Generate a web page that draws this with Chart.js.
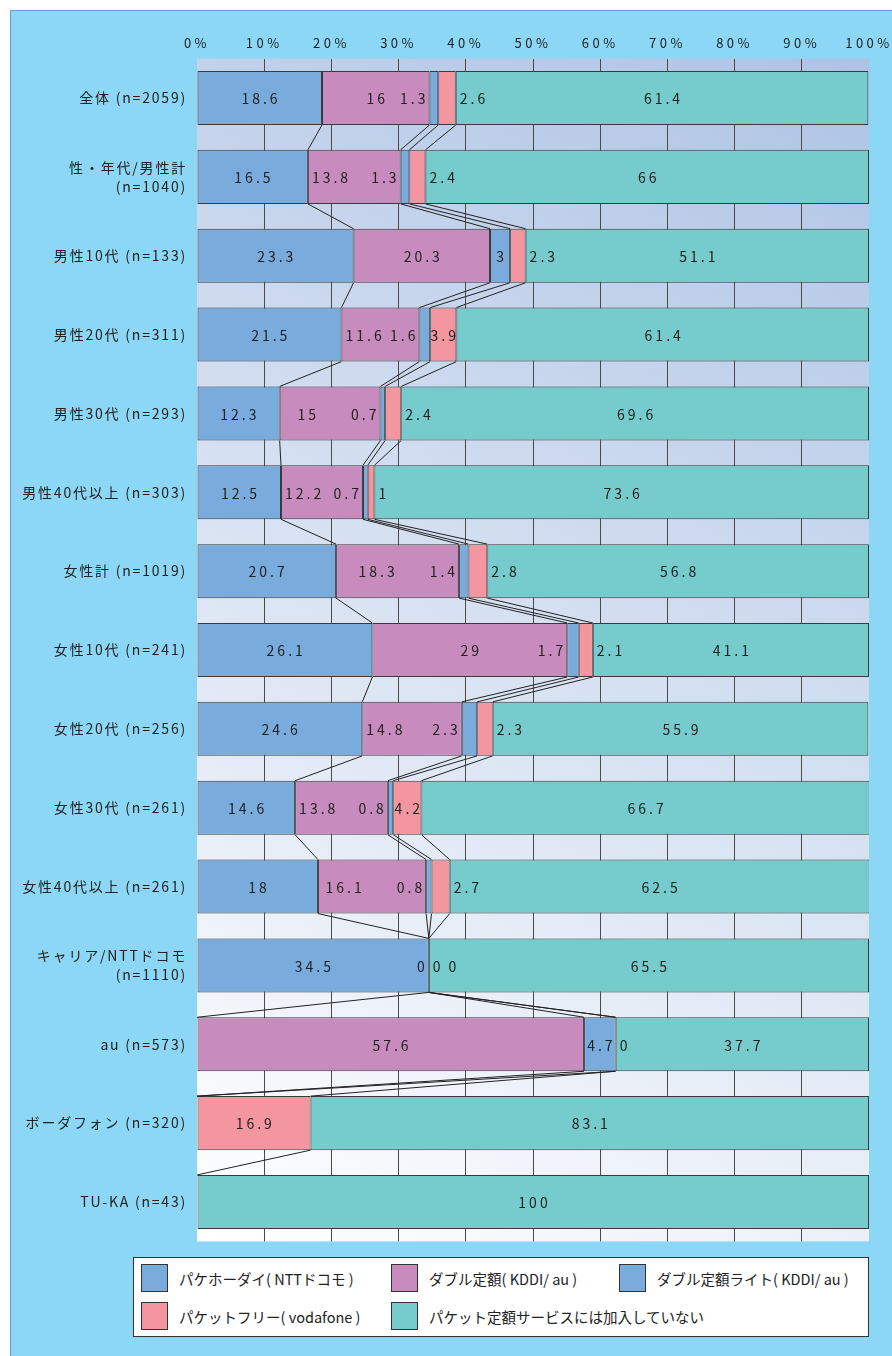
<!DOCTYPE html>
<html lang="ja">
<head>
<meta charset="utf-8">
<script src="https://cdn.jsdelivr.net/npm/chart.js@4.4.1/dist/chart.umd.min.js"></script>
<style>
  html,body{margin:0;padding:0;background:#fff;}
  body{width:892px;height:1356px;position:relative;overflow:hidden;font-family:"Noto Sans CJK JP","Noto Sans",sans-serif;}
  #panel{position:absolute;left:10px;top:10px;right:0;bottom:0;background:#8cd7f5;border-left:1.5px solid #6a9cdc;border-top:1.5px solid #6a9cdc;}
  #c{position:absolute;left:0;top:0;}
  #legend{position:absolute;left:133px;top:1257px;width:734px;height:78px;background:#fff;border:1px solid #333;}
  .li{position:absolute;height:28px;display:flex;align-items:center;white-space:nowrap;font-size:14.5px;color:#222;}
  .sw{width:25px;height:26px;border:1px solid #333;margin-right:11px;flex:none;}
</style>
</head>
<body>
<div id="panel"></div>
<canvas id="c" width="892" height="1356"></canvas>
<div id="legend"></div>
<script>
const categories = [
  '全体 (n=2059)',
  ['性・年代/男性計', '(n=1040)'],
  '男性10代 (n=133)',
  '男性20代 (n=311)',
  '男性30代 (n=293)',
  '男性40代以上 (n=303)',
  '女性計 (n=1019)',
  '女性10代 (n=241)',
  '女性20代 (n=256)',
  '女性30代 (n=261)',
  '女性40代以上 (n=261)',
  ['キャリア/NTTドコモ', '(n=1110)'],
  'au (n=573)',
  'ボーダフォン (n=320)',
  'TU-KA (n=43)'
];
const seriesNames = [
  'パケホーダイ( NTTドコモ )',
  'ダブル定額( KDDI/ au )',
  'ダブル定額ライト( KDDI/ au )',
  'パケットフリー( vodafone )',
  'パケット定額サービスには加入していない'
];
const pakehodai     = [18.6, 16.5, 23.3, 21.5, 12.3, 12.5, 20.7, 26.1, 24.6, 14.6, 18.0, 34.5, null, null, null];
const doubleTeigaku = [16.0, 13.8, 20.3, 11.6, 15.0, 12.2, 18.3, 29.0, 14.8, 13.8, 16.1, 0, 57.6, null, null];
const doubleLite    = [1.3, 1.3, 3.0, 1.6, 0.7, 0.7, 1.4, 1.7, 2.3, 0.8, 0.8, 0, 4.7, null, null];
const packetFree    = [2.6, 2.4, 2.3, 3.9, 2.4, 1.0, 2.8, 2.1, 2.3, 4.2, 2.7, 0, 0, 16.9, null];
const notJoined     = [61.4, 66.0, 51.1, 61.4, 69.6, 73.6, 56.8, 41.1, 55.9, 66.7, 62.5, 65.5, 37.7, 83.1, 100];
const xTicks = [0, 10, 20, 30, 40, 50, 60, 70, 80, 90, 100];

const colors = ['#79acdd', '#c88bbe', '#79acdd', '#f4969f', '#76cbcc'];
const seriesData = [pakehodai, doubleTeigaku, doubleLite, packetFree, notJoined];

const FONT = '"Noto Sans CJK JP", "Noto Sans", sans-serif';
const TXT = '#222';

function fmt(v){ return String(Math.round(v*10)/10); }

function wrapLabels(scale, spacing){
  if (scale._wrapped) return;
  const orig = scale.drawLabels;
  scale.drawLabels = function(ca){
    const ctx = this.ctx;
    const prev = ctx.letterSpacing;
    ctx.letterSpacing = spacing;
    orig.call(this, ca);
    ctx.letterSpacing = prev;
  };
  scale._wrapped = true;
}

const bgPlugin = {
  id: 'bgGrad',
  beforeDraw(chart){
    const {ctx, chartArea:a} = chart;
    wrapLabels(chart.scales.x, '3.5px');
    wrapLabels(chart.scales.y, '1.8px');
    ctx.save();
    const g = ctx.createLinearGradient(a.right, a.top, a.left, a.bottom);
    g.addColorStop(0, '#aec3e4');
    g.addColorStop(1, '#ffffff');
    ctx.fillStyle = g;
    ctx.fillRect(a.left, a.top, a.right - a.left, a.bottom - a.top);
    ctx.restore();
  }
};

const segPlugin = {
  id: 'segLabels',
  afterDatasetsDraw(chart){
    const ctx = chart.ctx, xs = chart.scales.x, ys = chart.scales.y;
    const n = categories.length;
    const tealMeta = chart.getDatasetMeta(4);
    const cum = [];
    for (let i = 0; i < n; i++){
      let s = 0; const row = [];
      for (let k = 0; k < seriesData.length; k++){ s += (seriesData[k][i] || 0); row.push(s); }
      cum.push(row);
    }
    const barH = tealMeta.data[0].height;
    // series lines
    ctx.save();
    ctx.strokeStyle = '#222';
    ctx.lineWidth = 1;
    for (let i = 0; i < n - 1; i++){
      const y1 = ys.getPixelForValue(i) + barH/2;
      const y2 = ys.getPixelForValue(i+1) - barH/2;
      for (let k = 0; k < 4; k++){
        if (cum[i][k] === 0 && cum[i+1][k] === 0) continue;
        ctx.beginPath();
        ctx.moveTo(xs.getPixelForValue(cum[i][k]), y1);
        ctx.lineTo(xs.getPixelForValue(cum[i+1][k]), y2);
        ctx.stroke();
      }
    }
    ctx.restore();
    // labels
    ctx.save();
    ctx.letterSpacing = '3px';
    ctx.font = '14px ' + FONT;
    ctx.fillStyle = TXT;
    ctx.textBaseline = 'middle';
    ctx.textAlign = 'left';
    for (let i = 0; i < n; i++){
      const yc = ys.getPixelForValue(i);
      const seg = k => {
        const s = xs.getPixelForValue(k === 0 ? 0 : cum[i][k-1]);
        const e = xs.getPixelForValue(cum[i][k]);
        return {s, e, w: e - s};
      };
      const out = [];
      const txt = k => seriesData[k][i] === null ? null : fmt(seriesData[k][i]);
      const tw = t => ctx.measureText(t).width - 3;
      const fits = (g, w) => g.w >= Math.max(w - 1.5, 12);
      // series 0
      let t = txt(0);
      if (t !== null){ const g = seg(0), w = tw(t); out.push({t, x: (g.s+g.e)/2 - w/2}); }
      // series 2 (lite)
      let liteLeft = null;
      t = txt(2);
      if (t !== null){
        const g = seg(2), w = tw(t);
        let x = fits(g, w) ? (g.s+g.e)/2 - w/2 : g.s - 4 - w;
        liteLeft = x; out.push({t, x});
      }
      // series 1 (pink)
      let occRight = null;
      t = txt(1);
      if (t !== null){
        const g = seg(1), w = tw(t);
        if (fits(g, w)){
          let x = (g.s+g.e)/2 - w/2;
          if (liteLeft !== null && x + w + 14 > liteLeft){
            x = Math.max(g.s + 4, liteLeft - 35 - w);
          }
          out.push({t, x});
        } else {
          const x = g.e + 4; occRight = x + w; out.push({t, x});
        }
      }
      // series 3 (vodafone)
      t = txt(3);
      if (t !== null){
        const g = seg(3), w = tw(t);
        let x;
        if (fits(g, w)) x = (g.s+g.e)/2 - w/2;
        else { x = g.e + 4; if (occRight !== null) x = Math.max(x, occRight + 8); }
        out.push({t, x});
      }
      // series 4 (teal)
      t = txt(4);
      if (t !== null){ const g = seg(4), w = tw(t); out.push({t, x: (g.s+g.e)/2 - w/2}); }
      out.forEach(o => ctx.fillText(o.t, o.x, yc + 1));
    }
    ctx.restore();
  }
};

const chart = new Chart(document.getElementById('c'), {
  type: 'bar',
  data: {
    labels: categories,
    datasets: seriesData.map((d, k) => ({
      label: seriesNames[k],
      data: d,
      backgroundColor: colors[k],
      borderColor: '#3a3a3a',
      borderWidth: 1,
      borderSkipped: false,
      barPercentage: 0.685,
      categoryPercentage: 1
    }))
  },
  options: {
    indexAxis: 'y',
    responsive: false,
    animation: false,
    devicePixelRatio: 1,
    layout: { padding: { left: 0, top: 0, right: 23, bottom: 114.6 } },
    plugins: { legend: { display: false }, tooltip: { enabled: false } },
    scales: {
      x: {
        position: 'top',
        stacked: true,
        min: 0, max: 100,
        afterBuildTicks(s){ s.ticks = xTicks.map(v => ({value: v})); },
        afterFit(s){ s.height = 58.6; s.paddingLeft = 0; s.paddingRight = 0; },
        border: { display: false },
        grid: {
          drawTicks: false,
          color: c => (c.tick && (c.tick.value === 0 || c.tick.value === 100)) ? 'rgba(0,0,0,0)' : '#4a4a4a',
          lineWidth: 1
        },
        ticks: {
          padding: 8,
          color: TXT,
          font: { family: FONT, size: 13 },
          callback: v => v + '%'
        }
      },
      y: {
        stacked: true,
        afterFit(s){ s.width = 197; s.paddingTop = 0; s.paddingBottom = 0; },
        border: { display: false },
        grid: { display: false, drawTicks: false },
        ticks: {
          autoSkip: false,
          padding: 10,
          color: TXT,
          font: { family: FONT, size: 14, lineHeight: 1.35 }
        }
      }
    }
  },
  plugins: [bgPlugin, segPlugin]
});

// legend built from chart datasets
const legendEl = document.getElementById('legend');
const colX = [7, 257, 485];
const rowY = [6, 44];
chart.data.datasets.forEach((ds, k) => {
  const r = Math.floor(k / 3), c = k % 3;
  const item = document.createElement('div');
  item.className = 'li';
  item.style.left = colX[c] + 'px';
  item.style.top = rowY[r] + 'px';
  const sw = document.createElement('span');
  sw.className = 'sw';
  sw.style.background = ds.backgroundColor;
  const tx = document.createElement('span');
  tx.textContent = ds.label;
  item.appendChild(sw); item.appendChild(tx);
  legendEl.appendChild(item);
});
</script>
</body>
</html>
